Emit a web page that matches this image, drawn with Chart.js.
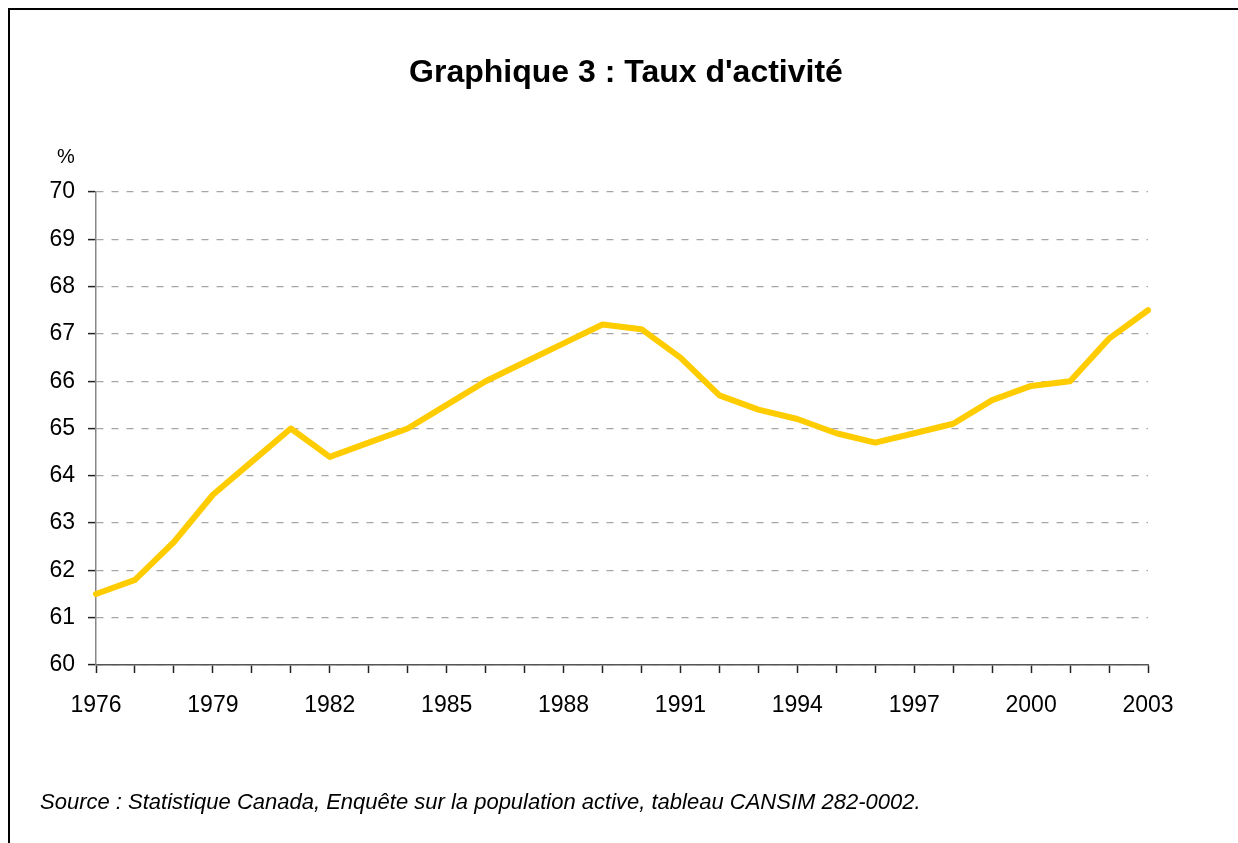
<!DOCTYPE html>
<html>
<head>
<meta charset="utf-8">
<script src="https://cdn.jsdelivr.net/npm/chart.js@4.4.1/dist/chart.umd.min.js"></script>
<style>
    body { margin: 0; background: #fff; font-family: "Liberation Sans", Arial, sans-serif; }
    #page { position: relative; width: 1238px; height: 843px; overflow: hidden; }
    #frame { position: absolute; left: 8px; top: 8px; width: 1400px; height: 1000px; border-left: 2px solid #000; border-top: 2px solid #000; }
    #chartTitle { position: absolute; left: 0; width: 1252px; top: 53px; text-align: center; font-weight: bold; font-size: 32px; color: #000; }
    #unit { position: absolute; left: 57px; top: 145px; font-size: 20px; color: #000; }
    #source { position: absolute; left: 40px; top: 789px; font-size: 22px; font-style: italic; color: #000; }
    canvas { position: absolute; left: 0; top: 0; }
</style>
</head>
<body>
<div id="page">
    <div id="frame"></div>
    <canvas id="taux" width="1238" height="843"></canvas>
    <div id="chartTitle">Graphique 3 : Taux d'activité</div>
    <div id="unit">%</div>
    <div id="source">Source : Statistique Canada, Enquête sur la population active, tableau CANSIM 282-0002.</div>
</div>
<script>
//years on the x axis, only every third one gets a label
var years = ["1976", "1977", "1978", "1979", "1980", "1981", "1982", "1983", "1984", "1985",
    "1986", "1987", "1988", "1989", "1990", "1991", "1992", "1993", "1994", "1995",
    "1996", "1997", "1998", "1999", "2000", "2001", "2002", "2003"];

//participation rate in %
var tauxActivite = [61.5, 61.8, 62.6, 63.6, 64.3, 65.0, 64.4, 64.7, 65.0, 65.5,
    66.0, 66.4, 66.8, 67.2, 67.1, 66.5, 65.7, 65.4, 65.2, 64.9,
    64.7, 64.9, 65.1, 65.6, 65.9, 66.0, 66.9, 67.5];

var yMin = 60;
var yMax = 70;

var ctx = document.getElementById('taux').getContext('2d');
var chart = new Chart(ctx, {
    type: 'line',

    data: {
        labels: years,
        datasets: [{
            label: "Taux d'activité",
            data: tauxActivite,
            borderColor: '#FFCC00',
            borderWidth: 6,
            borderJoinStyle: 'round',
            borderCapStyle: 'round',
            pointRadius: 0,
            tension: 0,
            fill: false
        }]
    },

    options: {
        responsive: false,
        devicePixelRatio: 1,
        animation: false,
        layout: {
            padding: { left: 0, right: 90, top: 192, bottom: 118 }
        },
        plugins: {
            legend: { display: false },
            title: { display: false },
            tooltip: { enabled: false }
        },
        scales: {
            x: {
                offset: false,
                afterFit: function (scale) { scale.height = 60; },
                border: { color: '#555', width: 1.5 },
                grid: {
                    drawOnChartArea: false,
                    drawTicks: true,
                    tickLength: 8,
                    tickColor: '#222',
                    tickWidth: 1.5
                },
                ticks: {
                    autoSkip: false,
                    maxRotation: 0,
                    padding: 19,
                    color: '#000',
                    font: { family: 'Liberation Sans', size: 23 },
                    callback: function (value, index) {
                        return index % 3 === 0 ? years[index] : '';
                    }
                }
            },
            y: {
                min: yMin,
                max: yMax,
                afterFit: function (scale) { scale.width = 96; },
                border: { color: '#888', width: 1.5, dash: [7, 8] },
                grid: {
                    color: '#a6a6a6',
                    lineWidth: 1.2,
                    tickLength: 8,
                    tickColor: '#222',
                    tickWidth: 1.5,
                    tickBorderDash: []
                },
                ticks: {
                    stepSize: 1,
                    padding: 13,
                    color: '#000',
                    font: { family: 'Liberation Sans', size: 23 }
                }
            }
        }
    }
});
</script>
</body>
</html>
